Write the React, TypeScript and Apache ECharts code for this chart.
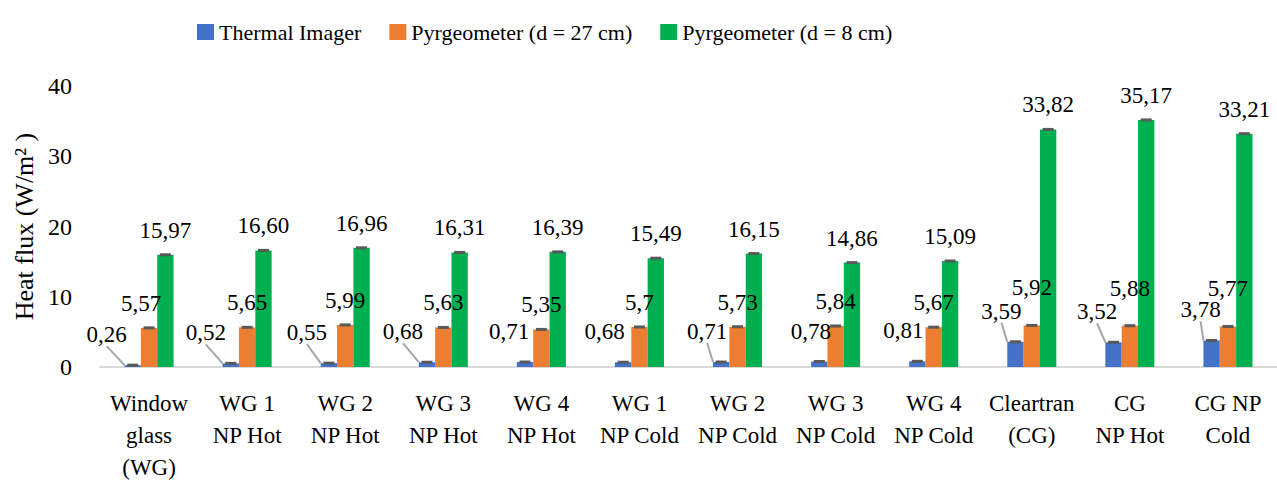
import React, { useEffect, useRef } from "react";
import * as echarts from "echarts";

const categories = [
  "Window\nglass\n(WG)",
  "WG 1\nNP Hot",
  "WG 2\nNP Hot",
  "WG 3\nNP Hot",
  "WG 4\nNP Hot",
  "WG 1\nNP Cold",
  "WG 2\nNP Cold",
  "WG 3\nNP Cold",
  "WG 4\nNP Cold",
  "Cleartran\n(CG)",
  "CG\nNP Hot",
  "CG NP\nCold",
];

const seriesNames = ["Thermal Imager", "Pyrgeometer (d = 27 cm)", "Pyrgeometer (d = 8 cm)"];
const thermalImager = [0.26, 0.52, 0.55, 0.68, 0.71, 0.68, 0.71, 0.78, 0.81, 3.59, 3.52, 3.78];
const pyrgeometer27 = [5.57, 5.65, 5.99, 5.63, 5.35, 5.7, 5.73, 5.84, 5.67, 5.92, 5.88, 5.77];
const pyrgeometer8 = [15.97, 16.6, 16.96, 16.31, 16.39, 15.49, 16.15, 14.86, 15.09, 33.82, 35.17, 33.21];
const yTicks = [0, 10, 20, 30, 40];

// label placement tweaks (style)
const blueLabelDx = [-26, -25, -22, -24, -16, -18.5, -14, -8.5, -14, -14, -16.5, -11];
const blueLeader = [true, true, true, true, false, false, true, false, false, true, true, true];
const orangeLabelDx = [-8, 0, 0, 0, 0, 0, 0, 0, 0, 0, 0, 0];
const orangeLabelDy = [0, 0, 0, 0, 0, 0, 0, 0, 0, -13, -13, -13];

const FONT = "Liberation Serif";
const colors = ["#4472C4", "#ED7D31", "#00B050"];

export default function App() {
  const ref = useRef<HTMLDivElement>(null);
  useEffect(() => {
    if (!ref.current) return;
    const chart = echarts.init(ref.current, null, { renderer: "svg" });

    const labelStyle = { fontSize: 23, color: "#000", fontFamily: FONT };

    const errorCap = (name: string, values: number[], off: number) => ({
      type: "custom",
      name: name + " err",
      z: 5,
      silent: true,
      data: values.map((v, i) => [i, v]),
      renderItem: (params: any, api: any) => {
        const p = api.coord([api.value(0), api.value(1)]);
        const bw = api.size([1, 0])[0];
        const barW = (bw * 0.5) / 3;
        return {
          type: "rect",
          shape: { x: p[0] + off * barW - 5.5, y: p[1] - 1.5, width: 11, height: 3 },
          style: { fill: "#595959" },
        };
      },
    });

    const option: any = {
      animation: false,
      textStyle: { fontFamily: FONT },
      legend: {
        data: seriesNames,
        left: 197,
        top: 21,
        itemWidth: 17,
        itemHeight: 16,
        itemGap: 28,
        icon: "rect",
        padding: 0,
        textStyle: { fontSize: 22, color: "#000", fontFamily: FONT },
      },
      grid: { left: 100, top: 86, width: 1184, height: 287.3 },
      xAxis: {
        type: "category",
        data: categories,
        axisLine: { lineStyle: { color: "#D9D9D9", width: 2 } },
        axisTick: { show: false },
        axisLabel: {
          interval: 0,
          fontSize: 23,
          lineHeight: 32,
          margin: 20,
          color: "#000",
          fontFamily: FONT,
        },
      },
      yAxis: {
        type: "value",
        min: yTicks[0],
        max: yTicks[yTicks.length - 1],
        interval: yTicks[1] - yTicks[0],
        splitLine: { show: false },
        axisLine: { show: false },
        axisTick: { show: false },
        axisLabel: { fontSize: 24, margin: 28, color: "#000", fontFamily: FONT },
        name: "Heat flux (W/m\u00B2 )",
        nameLocation: "middle",
        nameGap: 63,
        nameTextStyle: { fontSize: 26, color: "#000", fontFamily: FONT },
      },
      series: [
        {
          type: "bar",
          name: seriesNames[0],
          itemStyle: { color: colors[0] },
          barGap: "0%",
          barCategoryGap: "50%",
          data: thermalImager.map((v, i) => ({
            value: v,
            labelLine: { show: blueLeader[i] },
          })),
          label: {
            show: true,
            position: "top",
            distance: 13,
            ...labelStyle,
            formatter: (p: any) => String(p.value).replace(".", ","),
          },
          labelLine: { show: true, smooth: false, lineStyle: { color: "#A6A6A6", width: 2 } },
          labelLayout: (p: any) => ({ dx: blueLabelDx[p.dataIndex], dy: -6 }),
        },
        {
          type: "bar",
          name: seriesNames[1],
          itemStyle: { color: colors[1] },
          barGap: "0%",
          barCategoryGap: "50%",
          data: pyrgeometer27,
          label: {
            show: true,
            position: "top",
            distance: 13,
            ...labelStyle,
            formatter: (p: any) => String(p.value).replace(".", ","),
          },
          labelLayout: (p: any) => ({ dx: orangeLabelDx[p.dataIndex], dy: orangeLabelDy[p.dataIndex] }),
        },
        {
          type: "bar",
          name: seriesNames[2],
          itemStyle: { color: colors[2] },
          barGap: "0%",
          barCategoryGap: "50%",
          data: pyrgeometer8,
          label: {
            show: true,
            position: "top",
            distance: 13,
            ...labelStyle,
            formatter: (p: any) => Number(p.value).toFixed(2).replace(".", ","),
          },
        },
        errorCap(seriesNames[0], thermalImager, -1),
        errorCap(seriesNames[1], pyrgeometer27, 0),
        errorCap(seriesNames[2], pyrgeometer8, 1),
      ],
    };
    chart.setOption(option);
    return () => chart.dispose();
  }, []);

  return (
    <div
      ref={ref}
      style={{ position: "fixed", left: 0, top: 0, width: 1277, height: 483, background: "#fff" }}
    />
  );
}
